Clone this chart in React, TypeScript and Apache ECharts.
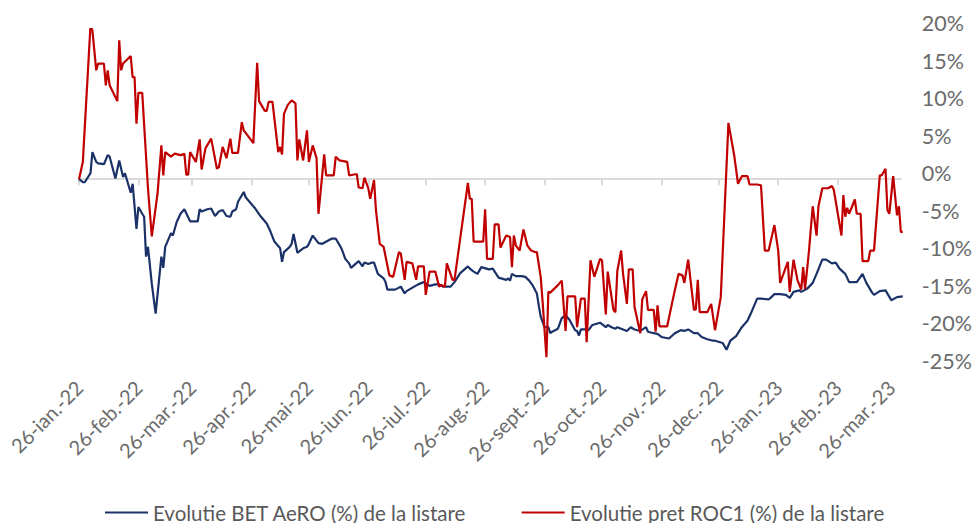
import React, { useEffect, useRef } from "react";
import * as echarts from "echarts";

const listingDate = "2022-01-26";
const lastDate = "2023-04-01";

const tickDates = [
  "2022-01-26", "2022-02-26", "2022-03-26", "2022-04-26", "2022-05-26",
  "2022-06-26", "2022-07-26", "2022-08-26", "2022-09-26", "2022-10-26",
  "2022-11-26", "2022-12-26", "2023-01-26", "2023-02-26", "2023-03-26",
];
const tickLabels = [
  "26-ian.-22", "26-feb.-22", "26-mar.-22", "26-apr.-22", "26-mai-22",
  "26-iun.-22", "26-iul.-22", "26-aug.-22", "26-sept.-22", "26-oct.-22",
  "26-nov.-22", "26-dec.-22", "26-ian.-23", "26-feb.-23", "26-mar.-23",
];

const seriesNames = [
  "Evolutie BET AeRO (%) de la listare",
  "Evolutie pret ROC1 (%) de la listare",
];

// [days since listing, % change]
const betAero: [number, number][] = [
  [0, 0], [2, -0.4], [3, -0.4], [6, 0.8], [7, 3.6], [9, 2.3], [10, 2.1], [13, 2.0], [15, 3.2], [16, 3.0],
  [19, 0.1], [21, 2.5], [23, 0.3], [24, 0.8], [27, -1.8], [28, -0.6], [30, -6.6], [31, -3.7], [33, -4.6], [34, -5.0],
  [35, -10.3], [36, -9.0], [38, -13.9], [40, -17.9], [43, -10.3], [44, -11.8], [45, -9.0], [47, -7.8], [48, -7.2], [49, -7.5],
  [51, -5.7], [53, -4.6], [55, -4.0], [58, -5.6], [62, -5.6], [63, -4.0], [64, -4.3], [67, -4.0], [69, -3.9], [71, -4.9],
  [73, -4.3], [75, -4.1], [77, -4.9], [79, -5.0], [80, -4.3], [82, -4.0], [83, -3.0], [86, -1.7], [87, -2.4], [92, -3.9],
  [95, -5.0], [98, -5.9], [100, -7.0], [102, -8.3], [105, -9.2], [106, -11.0], [107, -9.7], [110, -9.0], [111, -8.6], [112, -7.3],
  [114, -9.8], [117, -9.2], [119, -9.0], [120, -8.6], [122, -7.5], [125, -8.5], [127, -8.6], [132, -7.9], [134, -7.9], [137, -9.2],
  [139, -10.6], [141, -11.2], [142, -11.8], [146, -10.9], [148, -11.6], [149, -11.1], [151, -11.3], [153, -11.1], [154, -11.1], [156, -12.6],
  [159, -13.2], [160, -13.7], [161, -14.7], [165, -14.7], [168, -14.3], [170, -15.2], [171, -14.9], [173, -14.6], [177, -14.0], [180, -13.7],
  [183, -14.2], [186, -14.0], [188, -14.0], [190, -14.3], [194, -14.3], [196, -13.7], [199, -12.5], [203, -11.6], [204, -11.9], [206, -12.3],
  [208, -12.6], [210, -11.7], [214, -12.0], [216, -11.9], [217, -12.3], [219, -13.1], [223, -13.4], [224, -13.2], [225, -13.5], [226, -12.6],
  [228, -12.9], [231, -12.9], [233, -13.0], [235, -13.5], [237, -14.2], [239, -15.2], [240, -16.8], [241, -18.3], [243, -19.7], [245, -19.7],
  [246, -20.5], [247, -20.3], [250, -19.9], [252, -18.5], [254, -18.1], [256, -18.7], [259, -20.1], [260, -20.2], [261, -20.8], [262, -20.0],
  [264, -20.0], [266, -20.1], [268, -19.4], [272, -19.1], [273, -19.3], [275, -19.7], [276, -19.4], [278, -19.7], [280, -19.9], [281, -19.7],
  [283, -19.9], [286, -20.2], [288, -19.7], [290, -20.0], [293, -20.2], [296, -19.7], [297, -20.3], [300, -20.5], [302, -20.6], [304, -21.0],
  [308, -21.2], [311, -20.5], [314, -20.1], [316, -20.2], [318, -20.0], [321, -20.5], [323, -20.5], [325, -21.0], [328, -21.3], [331, -21.5],
  [332, -21.5], [336, -21.8], [338, -22.7], [340, -21.5], [343, -20.9], [346, -19.7], [349, -18.8], [351, -17.7], [354, -15.9], [356, -15.9],
  [360, -16.0], [361, -15.8], [363, -15.3], [366, -15.3], [369, -15.4], [371, -15.8], [373, -15.0], [376, -14.8], [377, -15.0], [380, -14.6],
  [383, -13.8], [385, -12.6], [388, -10.7], [390, -10.7], [393, -11.2], [395, -11.1], [397, -11.9], [400, -12.6], [402, -13.7], [406, -13.7],
  [409, -12.6], [411, -13.8], [414, -15.1], [415, -15.4], [418, -14.9], [421, -14.8], [424, -16.1], [427, -15.7], [430, -15.6],
];

const roc1: [number, number][] = [
  [0, 0], [2, 2.3], [6, 20.5], [7, 19.8], [9, 14.5], [10, 15.4], [13, 15.4], [14, 12.5], [15, 14.5], [16, 12.5],
  [20, 10.4], [21, 18.5], [22, 14.5], [23, 15.4], [27, 16.4], [28, 13.6], [29, 13.6], [30, 7.4], [31, 11.5], [33, 11.5],
  [36, -1.2], [38, -7.6], [41, -1.9], [43, 4.5], [44, 0.5], [45, 3.6], [48, 3.0], [50, 3.4], [53, 3.2], [55, 3.4],
  [56, 0.6], [57, 0.6], [58, 3.6], [61, 2.3], [63, 5.3], [64, 1.3], [66, 4.1], [69, 5.4], [72, 1.4], [73, 1.6],
  [75, 4.3], [77, 2.8], [79, 5.4], [80, 3.5], [83, 3.5], [85, 7.6], [86, 6.5], [91, 4.8], [93, 15.5], [94, 10.4],
  [97, 9.1], [98, 9.1], [99, 10.3], [101, 10.3], [104, 3.6], [105, 4.3], [106, 3.3], [107, 8.7], [109, 9.9], [111, 10.5],
  [113, 10.1], [114, 2.5], [115, 5.3], [117, 2.5], [119, 6.5], [120, 2.3], [122, 4.5], [124, 2.8], [125, -4.6], [128, 3.3],
  [129, 0.5], [133, 0.5], [134, 3.0], [136, 2.5], [140, 2.3], [141, 0.5], [145, 0.7], [146, -1.1], [148, -1.2], [149, 0.2],
  [151, -1.2], [152, -2.6], [154, -0.1], [155, -4.1], [157, -8.6], [159, -9.0], [162, -12.8], [164, -13.0], [167, -9.7], [168, -9.9],
  [170, -13.4], [171, -11.0], [174, -11.2], [176, -13.4], [177, -11.6], [180, -11.6], [181, -15.4], [183, -12.3], [186, -12.3], [188, -14.3],
  [189, -14.1], [191, -14.3], [192, -11.2], [195, -13.4], [196, -13.4], [203, -0.5], [204, -2.6], [205, -2.6], [206, -8.3], [211, -8.3],
  [212, -4.0], [213, -10.6], [216, -10.6], [217, -6.0], [219, -6.0], [220, -9.1], [223, -7.5], [225, -7.7], [226, -11.7], [227, -7.5],
  [228, -8.8], [230, -9.5], [232, -6.7], [234, -8.8], [236, -9.5], [238, -9.7], [239, -9.7], [241, -13.0], [242, -16.3], [244, -23.7],
  [245, -15.0], [246, -15.1], [250, -14.1], [252, -13.5], [254, -20.2], [255, -15.6], [259, -15.6], [260, -19.7], [262, -15.9], [264, -15.9],
  [265, -21.7], [267, -10.8], [269, -13.0], [272, -10.6], [273, -10.8], [275, -18.0], [276, -12.3], [279, -17.4], [280, -17.7], [281, -12.2],
  [283, -9.5], [284, -12.6], [286, -16.6], [287, -12.0], [289, -12.0], [290, -17.0], [293, -20.5], [294, -16.0], [296, -14.9], [297, -17.4],
  [300, -17.4], [301, -20.3], [302, -16.8], [303, -19.6], [307, -19.6], [311, -14.8], [313, -12.6], [315, -12.8], [316, -13.8], [318, -10.7],
  [321, -17.4], [322, -17.3], [323, -13.4], [324, -17.7], [328, -17.7], [330, -16.6], [332, -20.1], [335, -15.7], [339, 7.5], [342, 3.2],
  [344, -0.6], [346, 0.4], [349, 0.4], [350, -0.7], [354, -0.7], [356, -0.8], [358, -9.5], [360, -9.5], [363, -6.1], [365, -9.5],
  [366, -13.8], [370, -11.0], [371, -15.0], [373, -10.7], [375, -13.4], [377, -14.7], [378, -11.7], [379, -14.6], [381, -9.7], [383, -3.6],
  [385, -7.5], [386, -3.6], [388, -1.2], [391, -1.2], [393, -0.9], [394, -1.4], [398, -7.5], [399, -2.1], [400, -5.0], [401, -3.8],
  [402, -4.6], [405, -2.7], [406, -4.6], [408, -4.6], [409, -10.9], [412, -10.9], [413, -9.5], [415, -9.5], [418, 0.5], [419, 0.5],
  [421, 1.4], [422, -4.1], [423, -4.6], [425, 0.4], [427, -4.8], [428, -3.6], [429, -7.0], [430, -7.0],
];

const yMin = -25;
const yMax = 20;
const yStep = 5;

const FONT = "Lato, 'Open Sans', sans-serif";
const BLUE = "#1b3268";
const RED = "#c00000";
const AXIS_TEXT = "#6b6b6b";

const DAY = 86400000;
const toUtc = (s: string) => {
  const [y, m, d] = s.split("-").map(Number);
  return Date.UTC(y, m - 1, d);
};
const daysSinceListing = (s: string) =>
  Math.round((toUtc(s) - toUtc(listingDate)) / DAY);

export default function App() {
  const ref = useRef<HTMLDivElement>(null);

  useEffect(() => {
    document.body.style.margin = "0";
    if (!ref.current) return;
    const chart = echarts.init(ref.current, undefined, { renderer: "svg" });
    const tickDays = tickDates.map(daysSinceListing);
    const labelByDay: Record<number, string> = {};
    tickDays.forEach((d, i) => (labelByDay[d] = tickLabels[i]));
    const maxDay = daysSinceListing(lastDate) - 1;

    chart.setOption({
      animation: false,
      textStyle: { fontFamily: FONT },
      grid: { left: 79, top: 29, width: 825, height: 338 },
      xAxis: [
        {
          type: "value",
          min: 0,
          max: maxDay,
          position: "bottom",
          axisLine: { show: false, onZero: false },
          axisTick: { show: false },
          splitLine: { show: false },
          axisLabel: {
            customValues: tickDays,
            formatter: (v: number) => labelByDay[v] ?? "",
            rotate: 45,
            margin: 17,
            fontSize: 20,
            color: AXIS_TEXT,
            fontFamily: FONT,
          },
        },
        {
          type: "value",
          min: 0,
          max: maxDay,
          position: "bottom",
          axisLine: { show: true, onZero: true, lineStyle: { color: "#d9d9d9", width: 2 } },
          axisTick: {
            show: true,
            customValues: tickDays,
            length: 6,
            lineStyle: { color: "#d9d9d9", width: 2 },
          },
          axisLabel: { show: false },
          splitLine: { show: false },
        },
      ],
      yAxis: {
        type: "value",
        position: "right",
        min: yMin,
        max: yMax,
        interval: yStep,
        axisLine: { show: false },
        axisTick: { show: false },
        splitLine: { show: false },
        axisLabel: {
          formatter: "{value}%",
          margin: 21,
          fontSize: 21.5,
          color: AXIS_TEXT,
          fontFamily: FONT,
          verticalAlign: "bottom",
          lineHeight: 12,
        },
      },
      legend: {
        data: seriesNames,
        left: 105,
        top: 502,
        padding: 0,
        itemGap: 55,
        itemWidth: 43,
        itemHeight: 2,
        icon: "rect",
        textStyle: { fontSize: 20.5, color: "#595959", fontFamily: FONT },
      },
      series: [
        {
          name: seriesNames[0],
          type: "line",
          xAxisIndex: 0,
          data: betAero,
          symbol: "none",
          lineStyle: { color: BLUE, width: 2.2 },
          itemStyle: { color: BLUE },
        },
        {
          name: seriesNames[1],
          type: "line",
          xAxisIndex: 0,
          data: roc1,
          symbol: "none",
          lineStyle: { color: RED, width: 2.2 },
          itemStyle: { color: RED },
        },
      ],
    });
    return () => chart.dispose();
  }, []);

  return (
    <div
      ref={ref}
      style={{ position: "fixed", left: 0, top: 0, width: 975, height: 523, background: "#fff" }}
    />
  );
}
